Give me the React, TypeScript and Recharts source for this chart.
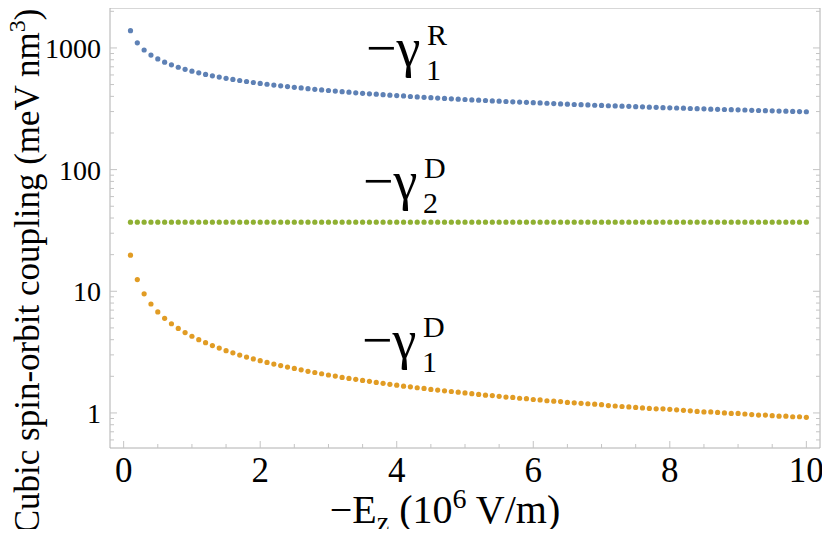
import { ScatterChart, Scatter, XAxis, YAxis, Customized } from 'recharts';

// -E_z in units of 10^6 V/m
const fieldValues = [
  0.1, 0.2, 0.3, 0.4, 0.5, 0.6, 0.7, 0.8, 0.9, 1.0,
  1.1, 1.2, 1.3, 1.4, 1.5, 1.6, 1.7, 1.8, 1.9, 2.0,
  2.1, 2.2, 2.3, 2.4, 2.5, 2.6, 2.7, 2.8, 2.9, 3.0,
  3.1, 3.2, 3.3, 3.4, 3.5, 3.6, 3.7, 3.8, 3.9, 4.0,
  4.1, 4.2, 4.3, 4.4, 4.5, 4.6, 4.7, 4.8, 4.9, 5.0,
  5.1, 5.2, 5.3, 5.4, 5.5, 5.6, 5.7, 5.8, 5.9, 6.0,
  6.1, 6.2, 6.3, 6.4, 6.5, 6.6, 6.7, 6.8, 6.9, 7.0,
  7.1, 7.2, 7.3, 7.4, 7.5, 7.6, 7.7, 7.8, 7.9, 8.0,
  8.1, 8.2, 8.3, 8.4, 8.5, 8.6, 8.7, 8.8, 8.9, 9.0,
  9.1, 9.2, 9.3, 9.4, 9.5, 9.6, 9.7, 9.8, 9.9, 10.0,
];

// -gamma_1^R (meV nm^3)
const gammaR1 = [
  1388, 1102, 962, 874, 812, 764, 726, 694, 667, 644,
  624, 606, 590, 576, 563, 551, 540, 530, 520, 511,
  503, 495, 488, 481, 475, 469, 463, 457, 452, 447,
  442, 437, 433, 428, 424, 420, 417, 413, 409, 406,
  403, 399, 396, 393, 390, 387, 385, 382, 379, 377,
  374, 372, 370, 367, 365, 363, 361, 359, 357, 355,
  353, 351, 349, 347, 345, 343, 342, 340, 338, 337,
  335, 334, 332, 331, 329, 328, 326, 325, 323, 322,
  321, 320, 318, 317, 316, 314, 313, 312, 311, 310,
  309, 307, 306, 305, 304, 303, 302, 301, 300, 299,
];

// -gamma_2^D (meV nm^3)
const gammaD2 = [
  37, 37, 37, 37, 37, 37, 37, 37, 37, 37,
  37, 37, 37, 37, 37, 37, 37, 37, 37, 37,
  37, 37, 37, 37, 37, 37, 37, 37, 37, 37,
  37, 37, 37, 37, 37, 37, 37, 37, 37, 37,
  37, 37, 37, 37, 37, 37, 37, 37, 37, 37,
  37, 37, 37, 37, 37, 37, 37, 37, 37, 37,
  37, 37, 37, 37, 37, 37, 37, 37, 37, 37,
  37, 37, 37, 37, 37, 37, 37, 37, 37, 37,
  37, 37, 37, 37, 37, 37, 37, 37, 37, 37,
  37, 37, 37, 37, 37, 37, 37, 37, 37, 37,
];

// -gamma_1^D (meV nm^3)
const gammaD1 = [
  19.8, 12.47, 9.52, 7.86, 6.77, 5.99, 5.41, 4.95, 4.58, 4.27,
  4.0, 3.78, 3.58, 3.41, 3.25, 3.12, 2.99, 2.88, 2.78, 2.69,
  2.6, 2.52, 2.45, 2.38, 2.32, 2.26, 2.2, 2.15, 2.1, 2.05,
  2.01, 1.96, 1.92, 1.89, 1.85, 1.82, 1.78, 1.75, 1.72, 1.69,
  1.66, 1.64, 1.61, 1.59, 1.56, 1.54, 1.52, 1.5, 1.48, 1.46,
  1.44, 1.42, 1.4, 1.39, 1.37, 1.35, 1.34, 1.32, 1.31, 1.29,
  1.28, 1.26, 1.25, 1.24, 1.22, 1.21, 1.2, 1.19, 1.18, 1.17,
  1.15, 1.14, 1.13, 1.12, 1.11, 1.1, 1.09, 1.08, 1.08, 1.07,
  1.06, 1.05, 1.04, 1.03, 1.02, 1.02, 1.01, 1.0, 0.99, 0.99,
  0.98, 0.97, 0.96, 0.96, 0.95, 0.94, 0.94, 0.93, 0.93, 0.92,
];

const xTicks = [0, 0.5, 1, 1.5, 2, 2.5, 3, 3.5, 4, 4.5, 5, 5.5, 6, 6.5, 7, 7.5, 8, 8.5, 9, 9.5, 10];
const xLabels = [0, 2, 4, 6, 8, 10];
const yTicks = [
  0.6, 0.7, 0.8, 0.9, 1, 2, 3, 4, 5, 6, 7, 8, 9,
  10, 20, 30, 40, 50, 60, 70, 80, 90,
  100, 200, 300, 400, 500, 600, 700, 800, 900, 1000, 2000,
];
const yLabels = [1, 10, 100, 1000];

const SERIF = "'Liberation Serif'";
const FRAME = '#b0b0b0';
const TICK = '#c4c4c4';
const txt = (size: number) => ({ fontFamily: SERIF, fontSize: size, fill: '#000' });

const toPoints = (vals: number[]) => fieldValues.map((x, i) => ({ x, y: vals[i] }));

const dot = (color: string) => (p: any) => <circle cx={p.cx} cy={p.cy} r={2.6} fill={color} />;

const BottomTick = ({ x, y, payload }: any) => {
  const major = xLabels.includes(payload.value);
  return (
    <g>
      <line x1={x} x2={x} y1={y} y2={y - (major ? 7 : 4)} stroke={TICK} />
      {major && (
        <text x={x} y={y + 34} textAnchor="middle" style={txt(35)}>
          {payload.value}
        </text>
      )}
    </g>
  );
};

const TopTick = ({ x, y, payload }: any) => {
  const major = xLabels.includes(payload.value);
  return <line x1={x} x2={x} y1={y} y2={y + (major ? 7 : 4)} stroke={TICK} />;
};

const LeftTick = ({ x, y, payload }: any) => {
  const major = yLabels.includes(payload.value);
  return (
    <g>
      <line x1={x} x2={x + (major ? 7 : 4)} y1={y} y2={y} stroke={TICK} />
      {major && (
        <text x={x - 9} y={y + 10} textAnchor="end" style={txt(28)}>
          {payload.value}
        </text>
      )}
    </g>
  );
};

const RightTick = ({ x, y, payload }: any) => {
  const major = yLabels.includes(payload.value);
  return <line x1={x} x2={x - (major ? 7 : 4)} y1={y} y2={y} stroke={TICK} />;
};

const GammaLabel = ({ x, my, sub, sup }: { x: number; my: number; sub: string; sup: string }) => (
  <g>
    <text x={x} y={my + 13} style={txt(54)}>−γ</text>
    <text x={x + 60} y={my + 27} style={txt(30)}>{sub}</text>
    <text x={x + 61} y={my - 8} style={txt(30)}>{sup}</text>
  </g>
);

const Annotations = () => (
  <g>
    <GammaLabel x={366} my={53} sub="1" sup="R" />
    <GammaLabel x={363} my={186} sub="2" sup="D" />
    <GammaLabel x={362} my={345} sub="1" sup="D" />
    <text x={39} y={271} transform="rotate(-90 39 271)" textAnchor="middle" style={txt(35)}>
      Cubic spin-orbit coupling (meV nm<tspan style={txt(24)} dy={-14}>3</tspan>
      <tspan style={txt(35)} dy={14}>)</tspan>
    </text>
    <text x={445} y={523} textAnchor="middle" style={txt(40)}>
      −E<tspan style={txt(28)} dy={8}>z</tspan>
      <tspan style={txt(40)} dy={-8}>{'  (10'}</tspan>
      <tspan style={txt(28)} dy={-15}>6</tspan>
      <tspan style={txt(40)} dy={15}>{' V/m)'}</tspan>
    </text>
  </g>
);

export default function App() {
  return (
    <div style={{ margin: -8, width: 830, height: 537, background: '#fff', fontFamily: SERIF }}>
      <ScatterChart width={830} height={537} margin={{ top: 0, right: 0, bottom: 0, left: 0 }}>
        <XAxis
          xAxisId="bottom"
          dataKey="x"
          type="number"
          domain={[-0.2, 10.2]}
          ticks={xTicks}
          interval={0}
          allowDataOverflow
          height={89}
          stroke={FRAME}
          tickSize={0}
          tickMargin={0}
          tickLine={false}
          tick={<BottomTick />}
        />
        <XAxis
          xAxisId="top"
          orientation="top"
          type="number"
          domain={[-0.2, 10.2]}
          ticks={xTicks}
          interval={0}
          allowDataOverflow
          height={8}
          stroke={FRAME}
          tickSize={0}
          tickMargin={0}
          tickLine={false}
          tick={<TopTick />}
        />
        <YAxis
          yAxisId="left"
          dataKey="y"
          type="number"
          scale="log"
          domain={[0.515, 2130]}
          ticks={yTicks}
          interval={0}
          allowDataOverflow
          width={110}
          stroke={FRAME}
          tickSize={0}
          tickMargin={0}
          tickLine={false}
          tick={<LeftTick />}
        />
        <YAxis
          yAxisId="right"
          orientation="right"
          type="number"
          scale="log"
          domain={[0.515, 2130]}
          ticks={yTicks}
          interval={0}
          allowDataOverflow
          width={10}
          stroke={FRAME}
          tickSize={0}
          tickMargin={0}
          tickLine={false}
          tick={<RightTick />}
        />
        <Scatter xAxisId="bottom" yAxisId="left" data={toPoints(gammaR1)} shape={dot('#5e81b5')} isAnimationActive={false} />
        <Scatter xAxisId="bottom" yAxisId="left" data={toPoints(gammaD2)} shape={dot('#8fb032')} isAnimationActive={false} />
        <Scatter xAxisId="bottom" yAxisId="left" data={toPoints(gammaD1)} shape={dot('#e19c24')} isAnimationActive={false} />
        <Customized component={Annotations} />
      </ScatterChart>
    </div>
  );
}
